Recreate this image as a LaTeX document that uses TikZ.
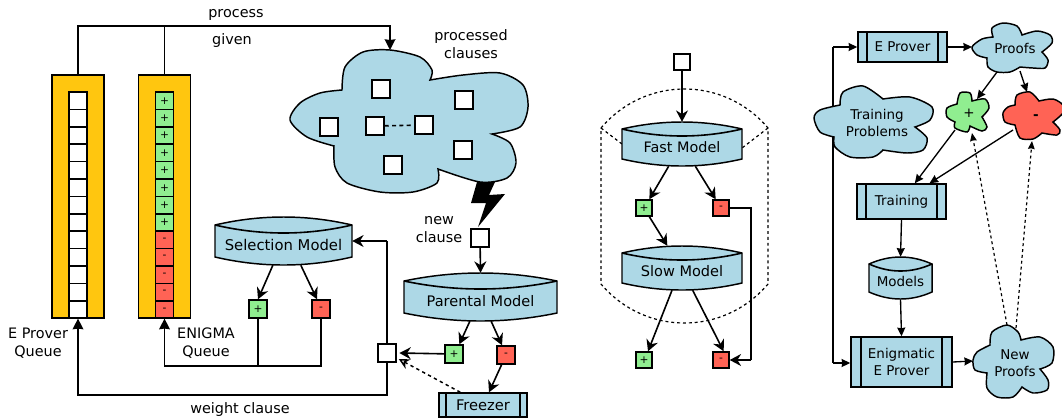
\documentclass[tikz,border=0pt]{standalone}
\usepackage{fontspec}
\setmainfont{DejaVu Sans}
\usetikzlibrary{arrows.meta}
\definecolor{cloudblue}{HTML}{ADD8E6}
\definecolor{queuegold}{HTML}{FFC60F}
\definecolor{posgreen}{HTML}{90EE90}
\definecolor{negred}{HTML}{FF6355}
\tikzset{
    line/.style={line width=1.2pt, draw=black},
    arrow/.style={line, -{Stealth[length=8.5pt,width=9pt]}},
    solidarrow/.style={line, -{Stealth[length=8pt,width=8pt,inset=0.5pt]}},
    smallarrow/.style={line width=1pt, -{Stealth[length=6.5pt,width=6pt,inset=0.5pt]}},
    dotline/.style={line width=0.9pt, dash pattern=on 2.2pt off 2.2pt},
    dotarrow/.style={dotline, -{Stealth[length=6pt,width=5pt,inset=0.5pt]}},
    openarrow/.style={line width=1.1pt, dash pattern=on 2.5pt off 2.5pt, -{Stealth[length=8pt,width=8pt,open]}},
    caption/.style={font=\fontsize{10.8}{13.5}\selectfont, align=center},
    paneltext/.style={font=\fontsize{10.1}{12.6}\selectfont, align=center},
    cell/.style={draw, line width=1.1pt, inner sep=0pt, fill=white, minimum width=13.5pt, minimum height=13pt, font=\fontsize{8}{8}\selectfont},
    clause/.style={cell, minimum width=13.5pt, minimum height=13.5pt},
    posclause/.style={clause, fill=posgreen},
    negclause/.style={clause, fill=negred},
    smallclause/.style={minimum width=12pt, minimum height=12pt},
    queue/.style={draw, line width=1.1pt, fill=queuegold, inner sep=0pt, minimum width=39pt, minimum height=182pt},
    cloud/.style={draw, line width=1.1pt, fill=cloudblue},
    bar/.style={draw, line width=1.1pt, fill=cloudblue, inner sep=0pt}
}
% model drawn as a barrel: name, left, right, top corner y, bottom corner y, bulge, font size, text
\newcommand{\modelbox}[8]{
    \pgfmathsetmacro{\xa}{#2+(#3-#2)/3}
    \pgfmathsetmacro{\xb}{#3-(#3-#2)/3}
    \pgfmathsetmacro{\yup}{#4-4*#6/3}
    \pgfmathsetmacro{\yin}{#4+4*#6/3}
    \pgfmathsetmacro{\ylow}{#5+4*#6/3}
    \draw[cloud] (#2,#4) .. controls (\xa,\yup) and (\xb,\yup) .. (#3,#4) -- (#3,#5)
        .. controls (\xb,\ylow) and (\xa,\ylow) .. (#2,#5) -- cycle;
    \draw[line] (#2,#4) .. controls (\xa,\yin) and (\xb,\yin) .. (#3,#4);
    \pgfmathsetmacro{\xm}{(#2+#3)/2}
    \pgfmathsetmacro{\ym}{(#4+#5)/2}
    \pgfmathsetmacro{\boxw}{(#3-#2)*0.75}
    \pgfmathsetmacro{\boxh}{(#5-#4+2*#6)*0.75}
    \pgfmathsetmacro{\texty}{-#6*0.375}
    \node[inner sep=0pt, minimum width=\boxw pt, minimum height=\boxh pt,
        label={[inner sep=0pt, yshift=\texty pt, font=\fontsize{#7}{#7}\selectfont]center:#8}] (#1) at (\xm,\ym) {};
}
% process box with two side bars: name, left, right, top, bottom, bar offset, font size, text
\newcommand{\barbox}[8]{
    \pgfmathsetmacro{\xm}{(#2+#3)/2}
    \pgfmathsetmacro{\ym}{(#4+#5)/2}
    \pgfmathsetmacro{\boxw}{(#3-#2)*0.75}
    \pgfmathsetmacro{\boxh}{(#5-#4)*0.75}
    \pgfmathsetmacro{\baroff}{#6*0.75}
    \node[bar, minimum width=\boxw pt, minimum height=\boxh pt, align=center, font=\fontsize{#7}{12.6}\selectfont] (#1) at (\xm,\ym) {#8};
    \draw[line] ([xshift=\baroff pt]#1.north west) -- ([xshift=\baroff pt]#1.south west);
    \draw[line] ([xshift=-\baroff pt]#1.north east) -- ([xshift=-\baroff pt]#1.south east);
}
\begin{document}
\begin{tikzpicture}[x=0.75pt, y=-0.75pt]
    \useasboundingbox (0,0) rectangle (1062,419);

    % Left part: the two queues
    \node[queue] (eqbox) at (78,196.5) {};
    \node[queue] (enigbox) at (164.5,196.5) {};
    \foreach \i in {0,...,12} {
        \node[cell] (ecell\i) at (78,100.7+17.4*\i) {};
    }
    \foreach \i in {0,...,7} {
        \node[cell, fill=posgreen] (pcell\i) at (164.5,100.7+17.4*\i) {+};
    }
    \foreach \i in {8,...,12} {
        \node[cell, fill=negred] (ncell\i) at (164.5,100.7+17.4*\i) {-};
    }
    \node[caption] (process) at (236,15) {process};
    \node[caption] (given) at (232,41) {given};
    \node[caption] (equeue) at (38,343) {E Prover\\Queue};
    \node[caption] (enigqueue) at (206,343) {ENIGMA\\Queue};
    \node[caption] (processedlabel) at (471,44.5) {processed\\clauses};
    \node[caption] (newlabel) at (439,230) {new\\clause};
    \node[caption] (weightlabel) at (240,410) {weight clause};

    % Processed clauses cloud
    \draw[cloud] plot[smooth] coordinates {(342,90) (345,67) (363,52) (390,50) (420,57) (432,70) (430,80)}
        -- plot[smooth] coordinates {(430,80) (463,75) (500,73) (523,85) (528,107) (520,127) (492,134)}
        -- plot[smooth] coordinates {(492,134) (510,143) (516,163) (507,178) (480,182) (438,169)}
        -- plot[smooth] coordinates {(438,169) (437,183) (413,192) (380,192) (347,183) (335,167) (334,146)}
        -- plot[smooth] coordinates {(334,146) (307,137) (290,120) (300,103) (320,93) (342,90)} -- cycle;
    \node[clause] (c1) at (381,89) {};
    \node[clause] (c2) at (464,100) {};
    \node[clause] (c3) at (329,127) {};
    \node[clause] (c4) at (375,126) {};
    \node[clause] (c5) at (424,125) {};
    \node[clause] (c6) at (463,150) {};
    \node[clause] (c7) at (393,165) {};
    \draw[line, dash pattern=on 3pt off 2.5pt] (c4) -- (c5);

    % Lightning
    \fill (477,182) -- (495,182) -- (489,195) -- (505,194) -- (478,227) -- (486,203) -- (471,203) -- cycle;

    % Models of the left part
    \modelbox{selmodel}{215}{352}{225}{257}{8}{11.1}{Selection Model}
    \modelbox{parmodel}{404}{557}{281}{313}{8}{10.9}{Parental Model}
    \node[clause] (newclause) at (480,238) {};
    \node[posclause] (selplus) at (258,309) {+};
    \node[negclause] (selminus) at (321,309) {-};
    \node[posclause] (parplus) at (454,354) {+};
    \node[negclause] (parminus) at (506,355) {-};
    \node[clause] (weight) at (387,353) {};
    \barbox{freezer}{439}{527}{393}{417}{8}{11}{Freezer}

    % Connectors of the left part
    \coordinate (topline) at (390,26);
    \coordinate (cloudtop) at (390,50);
    \coordinate (enigturn) at (164.5,366);
    \coordinate (eqturn) at (78,395);
    \coordinate (selin) at (387,241);
    \draw[solidarrow] (eqbox.north) |- (topline) -- (cloudtop);
    \draw[line] (enigbox.north) -- (enigbox.north |- topline);
    \draw[solidarrow] (selplus.south) |- (enigturn) -- (enigbox.south);
    \draw[line] (selminus.south) |- (enigturn);
    \draw[solidarrow] (weight.south) |- (eqturn) -- (eqbox.south);
    \draw[line] (weight.north) -- (selin);
    \draw[arrow] (selin) -- (selmodel.east |- selin);
    \draw[arrow] ([xshift=-8pt]selmodel.south) -- (selplus.north);
    \draw[arrow] ([xshift=13pt]selmodel.south) -- ([xshift=-3pt]selminus.north);
    \draw[arrow] (newclause) -- (parmodel.north);
    \draw[arrow] ([xshift=-8pt]parmodel.south) -- ([xshift=4pt]parplus.north);
    \draw[arrow] ([xshift=8pt]parmodel.south) -- ([xshift=-3pt]parminus.north);
    \draw[arrow] (parplus) -- ([xshift=2pt]weight.east);
    \draw[arrow] (parminus) -- ([xshift=4.5pt]freezer.north);
    \draw[openarrow] ([xshift=-17pt]freezer.north) -- ([xshift=1.5pt,yshift=-4.5pt]weight.east);

    % Middle part: dotted barrel behind the models
    \draw[dotline] (601,128) .. controls (645,76) and (724,76) .. (768,128) -- (768,284)
        .. controls (724,336) and (645,336) .. (601,284) -- cycle;
    \draw[dotline] (601,128) -- (622,144);
    \draw[dotline] (768,128) -- (742,148);
    \modelbox{fastmodel}{622}{742}{129}{159}{7}{10.8}{Fast Model}
    \modelbox{slowmodel}{622}{742}{253}{283}{7}{10.9}{Slow Model}
    \node[clause, smallclause] (midclause) at (682,62) {};
    \node[posclause, smallclause] (fastplus) at (644,208) {+};
    \node[negclause, smallclause] (fastminus) at (721,208) {-};
    \node[posclause, smallclause] (slowplus) at (644,360) {+};
    \node[negclause, smallclause] (slowminus) at (721,360) {-};
    \coordinate (midtop) at (751,208);
    \coordinate (midlow) at (751,360);
    \draw[arrow] (midclause) -- (fastmodel.north);
    \draw[arrow] ([xshift=-10pt]fastmodel.south) -- ([xshift=4pt]fastplus.north);
    \draw[arrow] ([xshift=10pt]fastmodel.south) -- ([xshift=-4pt]fastminus.north);
    \draw[arrow] ([xshift=4pt]fastplus.south) -- ([xshift=-11pt]slowmodel.north);
    \draw[arrow] ([xshift=-7.5pt]slowmodel.south) -- ([xshift=3pt]slowplus.north);
    \draw[arrow] ([xshift=8pt]slowmodel.south) -- ([xshift=2pt]slowminus.north);
    \draw[line] (fastminus.east) -- (midtop) -- (midlow);
    \draw[arrow] (midlow) -- (slowminus.east);

    % Right part
    \coordinate (turntop) at (833,47);
    \coordinate (turnlow) at (833,363);
    \barbox{eprover}{858}{947}{32}{62}{10}{10.1}{E Prover}
    \barbox{training}{857}{946}{184}{219}{10}{10.1}{Training}
    \barbox{enigmatic}{851}{952}{337}{387}{11}{10.1}{Enigmatic\\E Prover}
    \draw[line width=1pt] (turntop) -- (turnlow);
    \draw[smallarrow] (turntop) -- (eprover.west |- turntop);
    \draw[smallarrow] (turnlow) -- (enigmatic.west |- turnlow);
    \draw[cloud] plot[smooth] coordinates {(840,105) (843,92) (863,86) (883,99)}
        -- plot[smooth] coordinates {(883,99) (910,97) (932,107) (930,120) (915,127)}
        -- plot[smooth] coordinates {(915,127) (927,138) (923,150) (907,153) (883,150)}
        -- plot[smooth] coordinates {(883,150) (873,157) (850,157) (835,147) (834,137)}
        -- plot[smooth] coordinates {(834,137) (820,132) (814,118) (820,110) (840,105)} -- cycle;
    \node[paneltext] (problems) at (877,123) {Training\\Problems};
    \draw[cloud] plot[smooth] coordinates {(993,37) (992,28) (1003,23) (1017,26) (1022,35)}
        -- plot[smooth] coordinates {(1022,35) (1037,31) (1050,35) (1052,43) (1042,52)}
        -- plot[smooth] coordinates {(1042,52) (1048,60) (1045,68) (1033,68) (1020,67)}
        -- plot[smooth] coordinates {(1020,67) (1010,72) (997,72) (988,67) (987,58)}
        -- plot[smooth] coordinates {(987,58) (977,55) (972,47) (982,39) (993,37)} -- cycle;
    \node[paneltext] (proofs) at (1015,48) {Proofs};
    \draw[cloud, fill=posgreen] plot[smooth] coordinates {(957,104) (960,93) (970,93) (972,101)}
        -- plot[smooth] coordinates {(972,101) (985,99) (989,108) (982,117)}
        -- plot[smooth] coordinates {(982,117) (987,127) (982,131) (970,126)}
        -- plot[smooth] coordinates {(970,126) (967,132) (955,128) (955,122)}
        -- plot[smooth] coordinates {(955,122) (947,117) (947,108) (957,104)} -- cycle;
    \node[paneltext] (posproofs) at (969,113) {+};
    \draw[cloud, fill=negred] plot[smooth] coordinates {(1015,105) (1017,95) (1030,92) (1039,101)}
        -- plot[smooth] coordinates {(1039,101) (1053,99) (1063,105) (1063,113) (1053,122)}
        -- plot[smooth] coordinates {(1053,122) (1060,130) (1057,135) (1042,133)}
        -- plot[smooth] coordinates {(1042,133) (1033,139) (1020,138) (1015,125)}
        -- plot[smooth] coordinates {(1015,125) (1005,122) (1003,113) (1008,107) (1015,105)} -- cycle;
    \node[paneltext] (negproofs) at (1036,117) {\textbf{-}};
    \draw[cloud] plot[smooth] coordinates {(990,345) (992,332) (1007,325) (1018,332) (1021,340)}
        -- plot[smooth] coordinates {(1021,340) (1040,337) (1053,347) (1052,363) (1040,369)}
        -- plot[smooth] coordinates {(1040,369) (1048,380) (1047,390) (1033,393) (1022,387)}
        -- plot[smooth] coordinates {(1022,387) (1013,397) (997,397) (987,388) (987,373)}
        -- plot[smooth] coordinates {(987,373) (975,370) (973,360) (977,352) (990,345)} -- cycle;
    \node[paneltext] (newproofs) at (1015,363) {New\\Proofs};
    \modelbox{models}{869}{932}{264}{292}{7}{10.1}{Models}

    % Named ends on the cloud borders
    \coordinate (proofsin) at (972,47);
    \coordinate (proofsp) at (997,72);
    \coordinate (proofsm) at (1020,71);
    \coordinate (posin) at (977,99);
    \coordinate (negin) at (1027,92);
    \coordinate (posout) at (955,130);
    \coordinate (negout) at (1013,130);
    \coordinate (newin) at (973,361);
    \coordinate (newp) at (1007,325);
    \coordinate (newm) at (1016,328);
    \coordinate (posback) at (972,133);
    \coordinate (negback) at (1032,141);
    \draw[smallarrow] (eprover.east) -- (proofsin);
    \draw[smallarrow] (proofsp) -- (posin);
    \draw[smallarrow] (proofsm) -- (negin);
    \draw[smallarrow] (posout) -- ([xshift=10pt]training.north);
    \draw[smallarrow] (negout) -- ([xshift=21pt]training.north);
    \draw[smallarrow] (training.south) -- (models.north);
    \draw[smallarrow] (models.south) -- (enigmatic.north);
    \draw[smallarrow] (enigmatic.east) -- (newin);
    \draw[dotarrow] (newp) -- (posback);
    \draw[dotarrow] (newm) -- (negback);
\end{tikzpicture}
\end{document}
